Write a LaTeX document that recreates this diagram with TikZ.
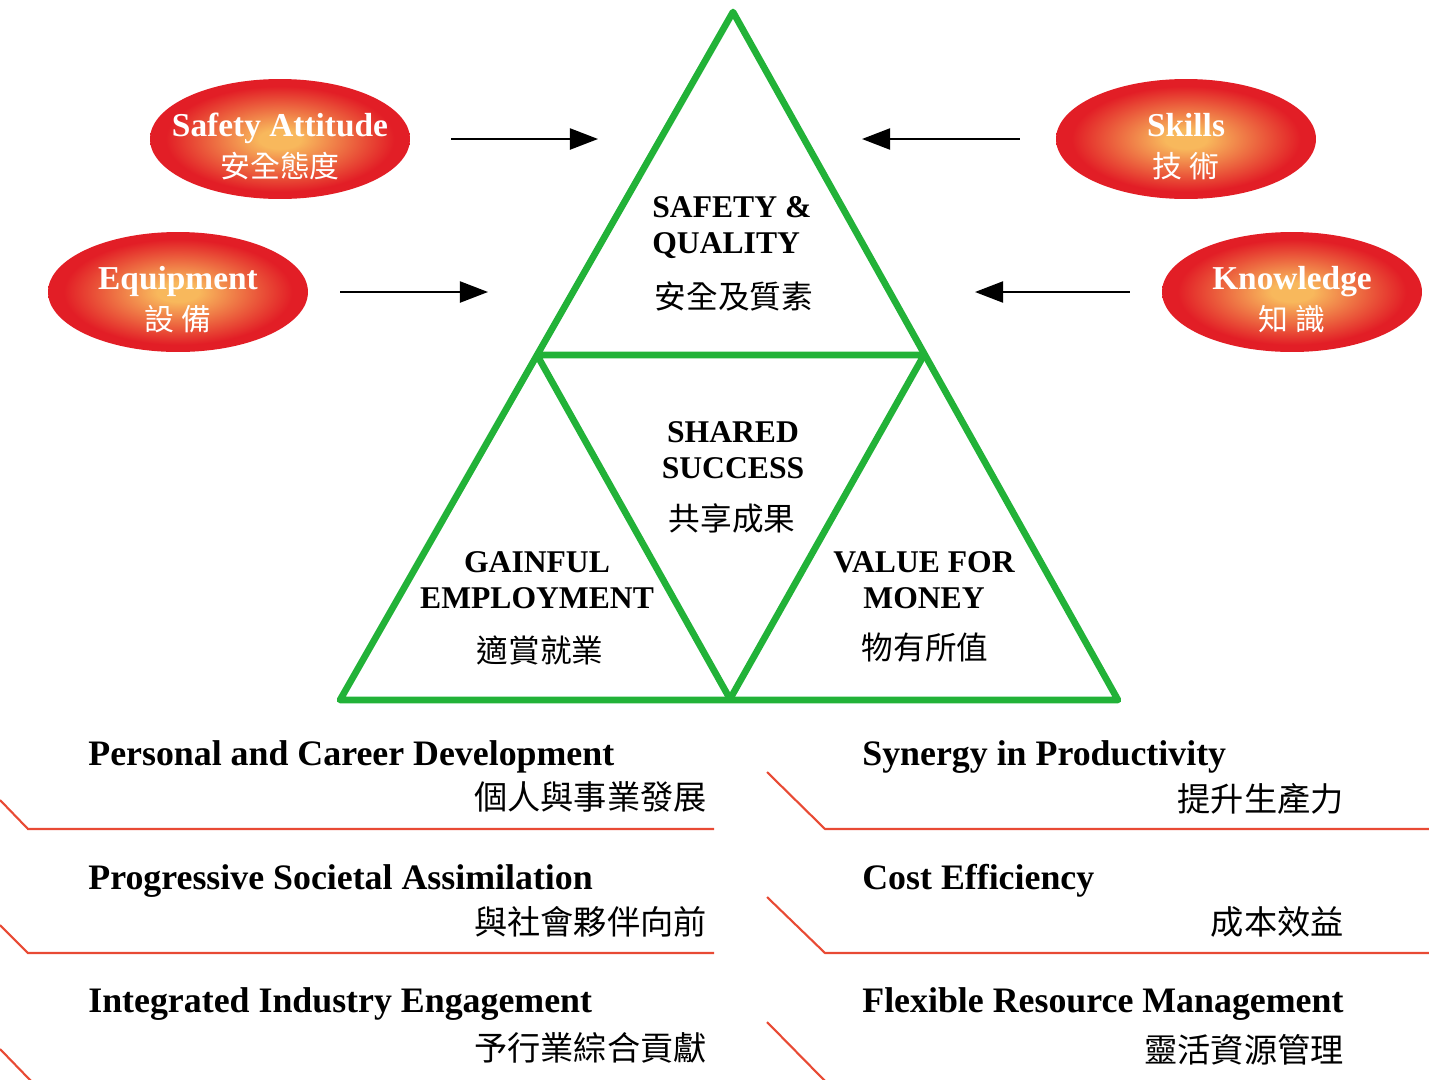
\documentclass[tikz,border=0pt]{standalone}
\usepackage{fontspec}
\setmainfont{Liberation Serif}
\newfontfamily\cjkfont{Noto Sans CJK TC}
\newcommand\badgecnfont{\cjkfont\mdseries\fontsize{17}{23}\selectfont}
\usetikzlibrary{shapes.geometric,arrows.meta}
\definecolor{triGreen}{RGB}{34,178,56}
\definecolor{badgeRed}{RGB}{226,30,38}
\definecolor{badgeGlow}{RGB}{248,184,92}
\definecolor{ruleRed}{RGB}{232,74,52}
\pgfdeclareradialshading{glow}{\pgfpoint{0bp}{0bp}}{color(0bp)=(badgeGlow); color(4bp)=(badgeGlow); color(22bp)=(badgeRed); color(50bp)=(badgeRed)}
\tikzset{
  badge/.style={ellipse, minimum width=5.2cm, minimum height=2.4cm, inner sep=-10pt,
    shade, shading=glow, text=white, align=center,
    font=\bfseries\fontsize{19}{23}\selectfont},
  arr/.style={line width=1.2pt, -{Triangle[length=16pt,width=12pt]}},
  tri/.style={triGreen, line width=3.8pt, line join=round},
  trien/.style={font=\bfseries\fontsize{18}{20.5}\selectfont, align=center},
  tricn/.style={font=\cjkfont\fontsize{18}{21}\selectfont},
  heading/.style={anchor=west, inner sep=0pt, font=\bfseries\fontsize{20.4}{24}\selectfont},
  headcn/.style={anchor=east, inner sep=0pt, font=\cjkfont\fontsize{18.9}{22}\selectfont},
  rule/.style={ruleRed, line width=1.2pt}
}
\begin{document}
\begin{tikzpicture}[x=0.02cm, y=-0.02cm]
  \useasboundingbox (0,0) rectangle (1429,1079);
  \clip (0,0) rectangle (1429,1079);

  \coordinate (apex) at (733,12);
  \coordinate (bl) at (340,700);
  \coordinate (br) at (1118,700);
  \coordinate (ml) at (537,355);
  \coordinate (mr) at (924,355);
  \coordinate (mb) at (730,699);
  \draw[tri] (apex) -- (bl) -- (br) -- cycle;
  \draw[tri] (ml) -- (mr) -- (mb) -- cycle;

  \node[trien, anchor=west, align=left, inner sep=0pt] (sq) at (652,228) {SAFETY \&\\QUALITY};
  \node[tricn] (sqcn) at (734,297) {安全及質素};
  \node[trien] (ss) at (733,450) {SHARED\\SUCCESS};
  \node[tricn] (sscn) at (732,518) {共享成果};
  \node[trien] (ge) at (537,580) {GAINFUL\\EMPLOYMENT};
  \node[tricn] (gecn) at (540,650) {適賞就業};
  \node[trien] (vm) at (924,580) {VALUE FOR\\MONEY};
  \node[tricn] (vmcn) at (925,648) {物有所值};

  \node[badge] (sa) at (280,139) {\rule{0pt}{22pt}Safety Attitude\\{\badgecnfont 安全態度}};
  \node[badge] (eq) at (178,292) {\rule{0pt}{22pt}Equipment\\{\badgecnfont 設 備}};
  \node[badge] (sk) at (1186,139) {\rule{0pt}{22pt}Skills\\{\badgecnfont 技 術}};
  \node[badge] (kn) at (1292,292) {\rule{0pt}{22pt}Knowledge\\{\badgecnfont 知 識}};

  \coordinate (saTip) at (598,139);
  \coordinate (eqTip) at (488,292);
  \coordinate (skTip) at (862,139);
  \coordinate (knTip) at (975,292);
  \draw[arr, shorten <=0.82cm] (sa.east) -- (saTip);
  \draw[arr, shorten <=0.64cm] (eq.east) -- (eqTip);
  \draw[arr, shorten <=0.72cm] (sk.west) -- (skTip);
  \draw[arr, shorten <=0.64cm] (kn.west) -- (knTip);

  \node[heading] (pcd) at (88,757) {Personal and Career Development};
  \node[headcn] (pcdcn) at (707,797) {個人與事業發展};
  \node[heading] (psa) at (88,881) {Progressive Societal Assimilation};
  \node[headcn] (psacn) at (707,922) {與社會夥伴向前};
  \node[heading] (iie) at (88,1004) {Integrated Industry Engagement};
  \node[headcn] (iiecn) at (707,1048) {予行業綜合貢獻};
  \node[heading] (sip) at (862,757) {Synergy in Productivity};
  \node[headcn] (sipcn) at (1344,799) {提升生產力};
  \node[heading] (ce) at (862,881) {Cost Efficiency};
  \node[headcn] (cecn) at (1344,922) {成本效益};
  \node[heading] (frm) at (862,1004) {Flexible Resource Management};
  \node[headcn] (frmcn) at (1344,1050) {靈活資源管理};

  \draw[rule] (0,800) -- (28,829) -- (714,829);
  \draw[rule] (0,925) -- (28,953) -- (714,953);
  \draw[rule] (0,1049) -- (32,1082);
  \draw[rule] (767,772) -- (825,829) -- (1429,829);
  \draw[rule] (767,897) -- (825,953) -- (1429,953);
  \draw[rule] (767,1022) -- (826,1082);
\end{tikzpicture}
\end{document}
